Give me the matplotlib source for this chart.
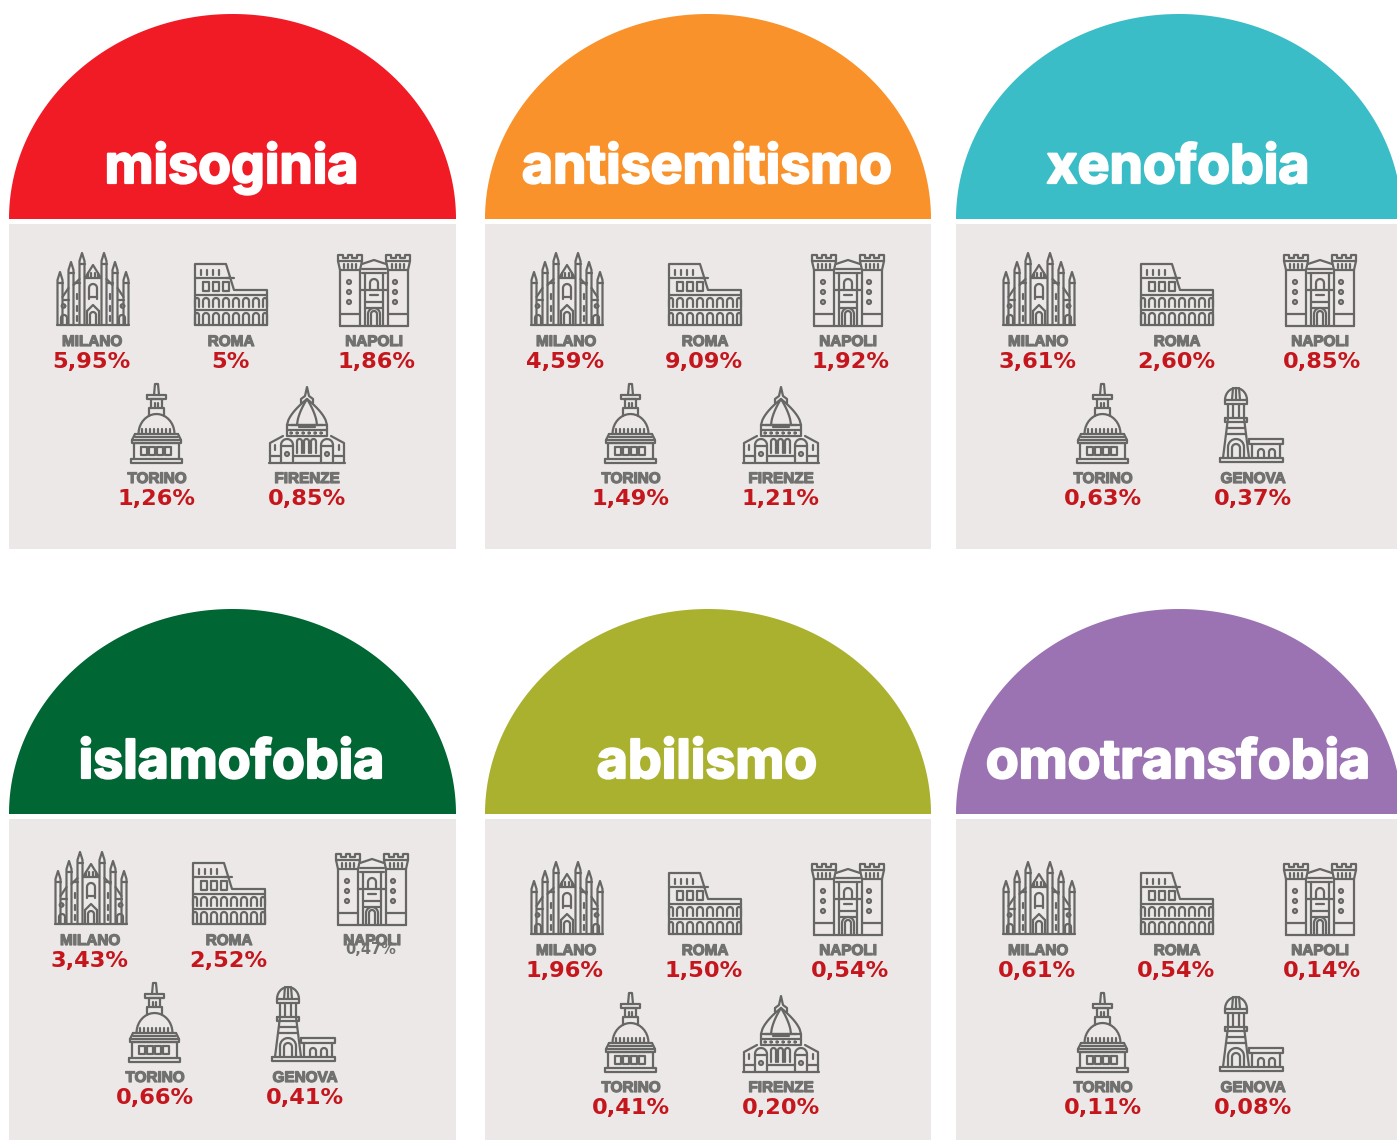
import numpy as np
import matplotlib
matplotlib.use('Agg')
import matplotlib.pyplot as plt
from matplotlib.collections import LineCollection
from matplotlib.patches import Polygon, Rectangle
import matplotlib.patheffects as pe

W, H = 1397, 1140

# data
titles = ['misoginia', 'antisemitismo', 'xenofobia', 'islamofobia', 'abilismo', 'omotransfobia']
dome_colors = ['#F11B26', '#F9922A', '#3ABDC6', '#006633', '#AAB12F', '#9B73B3']
fifth_city = ['FIRENZE', 'FIRENZE', 'GENOVA', 'GENOVA', 'FIRENZE', 'GENOVA']
milano = ['5,95%', '4,59%', '3,61%', '3,43%', '1,96%', '0,61%']
roma = ['5%', '9,09%', '2,60%', '2,52%', '1,50%', '0,54%']
napoli = ['1,86%', '1,92%', '0,85%', '0,47%', '0,54%', '0,14%']
torino = ['1,26%', '1,49%', '0,63%', '0,66%', '0,41%', '0,11%']
fifth = ['0,85%', '1,21%', '0,37%', '0,41%', '0,20%', '0,08%']

# layout, in pixels
panel_x = [(9, 456), (485, 931), (956, 1402), (9, 456), (485, 931), (956, 1402)]
panel_y = [(14, 219, 224, 549)] * 3 + [(609, 814, 819, 1140)] * 3
content_dx = [0, 474, 946, -2, 474, 946]
content_dy = [0, 0, 0, 599, 609, 609]

ICON = '#666665'
LABEL = '#717170'
VALUE = '#C4161C'
PANEL = '#ECE8E8'


def arch(x0, x1, ytop, ybot):
    t = np.linspace(np.pi, 0, 13)
    r = (x1 - x0) / 2
    xs = (x0 + x1) / 2 + r * np.cos(t)
    ys = ytop + r - r * np.sin(t)
    return [(x0, ybot)] + list(zip(xs, ys)) + [(x1, ybot)]


def ring(x, y, r):
    t = np.linspace(0, 2 * np.pi, 13)
    return list(zip(x + r * np.cos(t), y + r * np.sin(t)))


def box(x0, y0, x1, y1):
    return [(x0, y0), (x1, y0), (x1, y1), (x0, y1), (x0, y0)]


def crenel(x0, x1, y, teeth):
    step = (x1 - x0) / (2 * teeth - 1)
    pts = [(x0, y + 6)]
    for i in range(2 * teeth - 1):
        yy = y if i % 2 == 0 else y + 3
        pts += [(x0 + i * step, yy), (x0 + (i + 1) * step, yy)]
    pts.append((x1, y + 6))
    return pts


def milano_icon():
    out = [[(0, 72), (72, 72)]]
    for x, top in [(3, 19), (14, 9), (25, 0), (47, 0), (58, 9), (69, 19)]:
        out.append([(x - 2.5, 72), (x - 2.5, top + 8), (x, top), (x + 2.5, top + 8), (x + 2.5, 72)])
        out.append([(x - 2.5, top + 11), (x + 2.5, top + 11)])
    out += [[(28, 25), (36, 12), (44, 25)], [(28, 25), (44, 25)]]
    for x in (31, 34, 38, 41):
        out.append([(x, 20), (x, 25)])
    out += [[(5.5, 44), (11.5, 35)], [(16.5, 32), (22.5, 26)], [(49.5, 26), (55.5, 32)], [(60.5, 35), (66.5, 44)]]
    out += [[(5.5, 47), (11.5, 47)], [(60.5, 47), (66.5, 47)], [(16.5, 30), (22.5, 30)], [(49.5, 30), (55.5, 30)]]
    out += [arch(32, 40, 31, 46), [(32, 44), (40, 44)]]
    out += [[(30, 58), (36, 52), (42, 58)], [(30, 58), (30, 72)], [(42, 58), (42, 72)], arch(33, 39, 59, 72)]
    out += [arch(4, 10, 62, 72), arch(62, 68, 62, 72), ring(6.5, 53, 1.8), ring(65.5, 53, 1.8)]
    for x in (19.5, 52.5):
        out += [[(x, 41), (x, 46)], [(x, 53), (x, 58)], [(x, 63), (x, 68)]]
    return out


def roma_icon():
    out = [[(0, 72), (72, 72)]]
    out.append([(0, 72), (0, 11), (31, 11), (39, 37), (72, 37), (72, 72)])
    out += [[(0, 25), (36, 25)], [(0, 42), (72, 42)], [(0, 57), (72, 57)], [(31, 25), (39, 25)]]
    for x in (6, 12, 18, 24):
        out.append([(x, 17), (x, 22)])
    for x in (11, 21, 31):
        out.append(box(x - 3, 29, x + 3, 38))
    for x in (1, 11, 21, 31, 41, 51, 61, 71):
        x0, x1 = max(x - 3, 0), min(x + 3, 72)
        out.append(arch(x0, x1, 45, 54))
        out.append(arch(x0, x1, 60, 72))
    return out


def napoli_icon():
    out = [[(2, 72), (70, 72)]]
    out += [crenel(0, 24, 1, 3), crenel(48, 72, 1, 3)]
    out += [[(0, 7), (24, 7)], [(48, 7), (72, 7)], [(0, 7), (2, 16), (22, 16), (24, 7)], [(48, 7), (50, 16), (70, 16), (72, 7)]]
    for x in (6, 10, 14, 18):
        out += [[(x, 10), (x, 14)], [(x + 48, 10), (x + 48, 14)]]
    out += [[(2, 16), (2, 72)], [(70, 16), (70, 72)], [(22, 16), (22, 72)], [(50, 16), (50, 72)]]
    out += [[(2, 60), (22, 60)], [(50, 60), (70, 60)]]
    out += [[(24, 10), (30, 8), (36, 6), (42, 8), (48, 10)], [(24, 15), (48, 15)], [(24, 19), (48, 19)]]
    out += [[(27, 19), (27, 72)], [(45, 19), (45, 72)], [(22, 36), (50, 36)], [(27, 48), (45, 48)], [(27, 54), (45, 54)]]
    out += [arch(32, 40, 25, 36), [(32, 41), (40, 41)], arch(30, 42, 54, 72), arch(33, 39, 57, 72)]
    for y in (28, 38, 48):
        out += [ring(11, y, 2), ring(57, y, 2)]
    return out


def torino_icon():
    out = [box(0, 75, 51, 79)]
    out += [[(3, 75), (3, 59), (48, 59), (48, 75)], box(1, 56, 50, 59), [(4, 53), (47, 53)], [(4, 50), (47, 50)], [(1, 56), (4, 50)], [(50, 56), (47, 50)]]
    for x in (10, 18, 26, 34):
        out.append(box(x, 63, x + 6, 71))
    t = np.linspace(np.pi, 0, 19)
    out.append(list(zip(25.5 + 18 * np.cos(t), 50 - 20 * np.sin(t))))
    for x in (11, 15, 19, 23, 27, 31, 35, 39):
        out.append([(x, 45), (x, 49)])
    out += [[(18, 32), (18, 24), (33, 24), (33, 32)], [(20, 24), (20, 15), (31, 15), (31, 24)], box(16, 11, 35, 15)]
    out += [[(23, 11), (24, 0), (27, 0), (28, 11)], [(24, 19), (24, 23)], [(27, 19), (27, 23)]]
    return out


def firenze_icon():
    out = [[(0, 76), (76, 76)]]
    out += [[(1, 76), (1, 56), (14, 49)], [(75, 76), (75, 56), (62, 49)], [(1, 69), (12, 69)], [(64, 69), (75, 69)]]
    out += [arch(12, 24, 52, 76), arch(52, 64, 52, 76), [(12, 59), (24, 59)], [(52, 59), (64, 59)]]
    out += [ring(18, 67, 2), ring(58, 67, 2), [(24, 69), (52, 69)], [(6, 58), (6, 63)], [(70, 58), (70, 63)]]
    for x in (28, 35, 42):
        out.append(arch(x, x + 5, 52, 66))
    out += [box(18, 38, 58, 49), [(18, 43), (58, 43)], [(30, 40), (46, 40)]]
    # pointed dome and its two ribs
    s = np.linspace(0, 1, 15)
    rise = 38 - 26 * s ** 0.62
    for half in (20, 10):
        out.append(list(zip(38 - half * (1 - s), rise)))
        out.append(list(zip(38 + half * (1 - s), rise)))
    out += [[(32, 16), (32, 12), (36, 9), (38, 0), (40, 9), (44, 12), (44, 16)], [(22, 38), (54, 38)]]
    for x in (22, 28, 34, 40, 46, 52):
        out.append(ring(x, 46, 0.6))
    return out


def genova_icon():
    out = [box(0, 71, 63, 75)]
    out += [[(3, 71), (8, 31)], [(29, 71), (24, 31)], box(5, 31, 27, 35), box(5, 13, 27, 17)]
    out += [[(8, 17), (8, 31)], [(24, 17), (24, 31)], [(13, 17), (13, 31)], [(19, 17), (19, 31)]]
    t = np.linspace(np.pi, 0, 15)
    out.append(list(zip(16 + 11 * np.cos(t), 13 - 12 * np.sin(t))))
    out += [[(12, 13), (13, 1)], [(20, 13), (19, 1)], [(16, 13), (16, 1)]]
    out += [[(7, 41), (25, 41)], [(6, 47), (26, 47)], arch(8, 24, 52, 71), arch(12, 20, 57, 71)]
    out += [box(29, 52, 63, 57), [(32, 57), (32, 71)], [(60, 57), (60, 71)], arch(38, 44, 62, 71), arch(49, 55, 62, 71)]
    return out


def draw_icon(ax, lines, x, y):
    segs = [[(px + x, py + y) for px, py in line] for line in lines]
    ax.add_collection(LineCollection(segs, colors=ICON, linewidths=1.6, capstyle='round', joinstyle='round'))


def label(ax, x, y, txt):
    t = ax.text(x, y, txt, ha='center', va='center', fontsize=11, fontweight='bold', color=LABEL,
                family='Liberation Sans')
    t.set_path_effects([pe.withStroke(linewidth=0.9, foreground=LABEL)])


def value(ax, x, y, txt, color=VALUE, size=16.2):
    ax.text(x, y, txt, ha='center', va='center', fontsize=size, fontweight='bold', color=color,
            family='DejaVu Sans')


fig = plt.figure(figsize=(W / 100, H / 100), dpi=100)
ax = fig.add_axes([0, 0, 1, 1])
ax.set_xlim(0, W)
ax.set_ylim(H, 0)
ax.axis('off')

for i, title in enumerate(titles):
    x0, x1 = panel_x[i]
    top, base, gray_top, gray_bottom = panel_y[i]

    # dome
    t = np.linspace(np.pi, 0, 200)
    cx = (x0 + x1) / 2
    dome = np.column_stack([cx + (x1 - x0) / 2 * np.cos(t), base - (base - top) * np.sin(t)])
    ax.add_patch(Polygon(dome, closed=True, facecolor=dome_colors[i], edgecolor='none'))
    ax.add_patch(Rectangle((x0, gray_top), x1 - x0, gray_bottom - gray_top, facecolor=PANEL, edgecolor='none'))
    txt = ax.text(cx - 1, base - 36, title, ha='center', va='baseline', fontsize=38.6, fontweight='bold',
                  color='white', family='Inter')
    txt.set_path_effects([pe.withStroke(linewidth=1.6, foreground='white')])

    dx, dy = content_dx[i], content_dy[i]
    draw_icon(ax, milano_icon(), 57 + dx, 253 + dy)
    draw_icon(ax, roma_icon(), 195 + dx, 253 + dy)
    draw_icon(ax, napoli_icon(), 338 + dx, 254 + dy)
    draw_icon(ax, torino_icon(), 131 + dx, 384 + dy)
    if fifth_city[i] == 'FIRENZE':
        draw_icon(ax, firenze_icon(), 269 + dx, 387 + dy)
    else:
        draw_icon(ax, genova_icon(), 274 + dx, 387 + dy)

    label(ax, 92 + dx, 342 + dy, 'MILANO')
    label(ax, 231 + dx, 342 + dy, 'ROMA')
    label(ax, 374 + dx, 342 + dy, 'NAPOLI')
    label(ax, 157 + dx, 479 + dy, 'TORINO')
    label(ax, 307 + dx, 479 + dy, fifth_city[i])

    value(ax, 91 + dx, 362 + dy, milano[i])
    value(ax, 230 + dx, 362 + dy, roma[i])
    # the islamofobia Napoli figure sits on top of its label, small and grey
    if title == 'islamofobia':
        value(ax, 373 + dx, 351 + dy, napoli[i], color=LABEL, size=10.5)
    else:
        value(ax, 376 + dx, 362 + dy, napoli[i])
    value(ax, 157 + dx, 499 + dy, torino[i])
    value(ax, 307 + dx, 499 + dy, fifth[i])

fig.savefig('out.png', dpi=100)
